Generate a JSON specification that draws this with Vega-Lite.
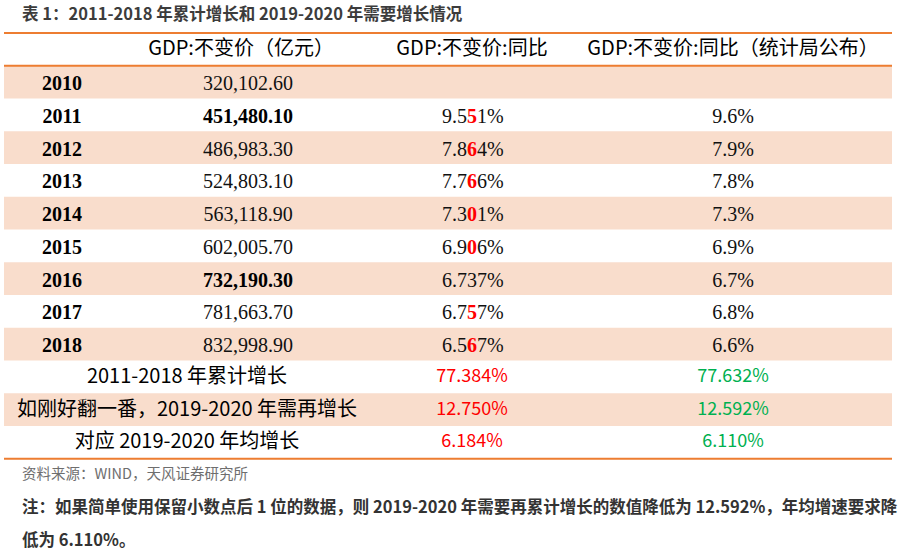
{
  "$schema": "https://vega.github.io/schema/vega-lite/v6.json",
  "width": 888,
  "height": 524,
  "autosize": {"type": "none"},
  "padding": {"left": 4, "top": 33, "right": 14, "bottom": 2},
  "background": "white",
  "config": {
    "view": {"stroke": null},
    "text": {"font": "Liberation Serif", "fontSize": 20, "color": "#111111", "baseline": "middle"}
  },
  "title": {
    "text": "表 1：2011-2018 年累计增长和 2019-2020 年需要增长情况",
    "anchor": "start",
    "frame": "group",
    "dx": 18,
    "offset": 9,
    "font": "Noto Sans CJK SC",
    "fontSize": 16.5,
    "fontWeight": "bold",
    "color": "#3c3c3c"
  },
  "datasets": {
    "table": [
      {"row": "2010", "label": "2010", "gdp": "320,102.60", "yoy": "", "stat": ""},
      {"row": "2011", "label": "2011", "gdp": "451,480.10", "yoy": "9.551%", "stat": "9.6%"},
      {"row": "2012", "label": "2012", "gdp": "486,983.30", "yoy": "7.864%", "stat": "7.9%"},
      {"row": "2013", "label": "2013", "gdp": "524,803.10", "yoy": "7.766%", "stat": "7.8%"},
      {"row": "2014", "label": "2014", "gdp": "563,118.90", "yoy": "7.301%", "stat": "7.3%"},
      {"row": "2015", "label": "2015", "gdp": "602,005.70", "yoy": "6.906%", "stat": "6.9%"},
      {"row": "2016", "label": "2016", "gdp": "732,190.30", "yoy": "6.737%", "stat": "6.7%"},
      {"row": "2017", "label": "2017", "gdp": "781,663.70", "yoy": "6.757%", "stat": "6.8%"},
      {"row": "2018", "label": "2018", "gdp": "832,998.90", "yoy": "6.567%", "stat": "6.6%"},
      {"row": "s1", "label": "2011-2018 年累计增长", "gdp": "", "yoy": "77.384%", "stat": "77.632%"},
      {"row": "s2", "label": "如刚好翻一番，2019-2020 年需再增长", "gdp": "", "yoy": "12.750%", "stat": "12.592%"},
      {"row": "s3", "label": "对应 2019-2020 年均增长", "gdp": "", "yoy": "6.184%", "stat": "6.110%"}
    ],
    "header": [
      {"row": "h", "col": 2, "text": "GDP:不变价（亿元）"},
      {"row": "h", "col": 3, "text": "GDP:不变价:同比"},
      {"row": "h", "col": 4, "text": "GDP:不变价:同比（统计局公布）"}
    ],
    "footer": [
      {"row": "src", "text": "资料来源：WIND，天风证券研究所"},
      {"row": "n1", "text": "注：如果简单使用保留小数点后 1 位的数据，则 2019-2020 年需要再累计增长的数值降低为 12.592%，年均增速要求降"},
      {"row": "n2", "text": "低为 6.110%。"}
    ]
  },
  "encoding": {
    "y": {
      "field": "row",
      "type": "ordinal",
      "scale": {
        "domain": ["h", "2010", "2011", "2012", "2013", "2014", "2015", "2016", "2017", "2018", "s1", "s2", "s3", "src", "n1", "n2"],
        "paddingInner": 0,
        "paddingOuter": 0
      },
      "axis": null
    }
  },
  "layer": [
    {
      "data": {"name": "table"},
      "transform": [{"filter": "indexof(['2010','2012','2014','2016','2018','s2'], datum.row) >= 0"}],
      "mark": {"type": "rect", "color": "#F9DDCC"},
      "encoding": {}
    },
    {
      "data": {"values": [{"row": "h"}, {"row": "2010"}]},
      "mark": {"type": "rule", "color": "#ED7D31", "strokeWidth": 2},
      "encoding": {"y": {"field": "row", "type": "ordinal", "bandPosition": 0}}
    },
    {
      "data": {"values": [{"row": "s3"}]},
      "mark": {"type": "rule", "color": "#ED7D31", "strokeWidth": 2},
      "encoding": {"y": {"field": "row", "type": "ordinal", "bandPosition": 1}}
    },
    {
      "data": {"name": "header"},
      "mark": {"type": "text", "font": "Noto Sans CJK SC", "fontSize": 20, "align": "center", "color": "#000000"},
      "encoding": {
        "x": {
          "field": "col",
          "type": "quantitative",
          "scale": {"type": "linear", "domain": [0, 1, 1.5, 2, 3, 4], "range": [18, 58, 183, 237, 468, 729], "zero": false, "nice": false},
          "axis": null
        },
        "text": {"field": "text"}
      }
    },
    {
      "data": {"name": "table"},
      "transform": [{"filter": "datum.gdp != ''"}],
      "mark": {"type": "text", "fontWeight": "bold", "align": "center", "color": "#000000", "dy": 2},
      "encoding": {"x": {"datum": 1, "type": "quantitative"}, "text": {"field": "label"}}
    },
    {
      "data": {"name": "table"},
      "transform": [{"filter": "datum.gdp != '' && datum.row != '2011' && datum.row != '2016'"}],
      "mark": {"type": "text", "align": "center", "dy": 2, "dx": 7},
      "encoding": {"x": {"datum": 2, "type": "quantitative"}, "text": {"field": "gdp"}}
    },
    {
      "data": {"name": "table"},
      "transform": [{"filter": "datum.row == '2011' || datum.row == '2016'"}],
      "mark": {"type": "text", "align": "center", "fontWeight": "bold", "color": "#000000", "dy": 2, "dx": 7},
      "encoding": {"x": {"datum": 2, "type": "quantitative"}, "text": {"field": "gdp"}}
    },
    {
      "data": {"name": "table"},
      "transform": [{"filter": "datum.gdp != '' && datum.yoy != ''"}, {"calculate": "substring(datum.yoy, 0, 3)", "as": "pre"}],
      "mark": {"type": "text", "align": "right", "dx": -5, "dy": 2},
      "encoding": {"x": {"datum": 3, "type": "quantitative"}, "text": {"field": "pre"}}
    },
    {
      "data": {"name": "table"},
      "transform": [{"filter": "datum.gdp != '' && datum.yoy != '' && datum.row != '2016'"}, {"calculate": "substring(datum.yoy, 3, 4)", "as": "mid"}],
      "mark": {"type": "text", "align": "center", "fontWeight": "bold", "color": "#FF0000", "dy": 2},
      "encoding": {"x": {"datum": 3, "type": "quantitative"}, "text": {"field": "mid"}}
    },
    {
      "data": {"name": "table"},
      "transform": [{"filter": "datum.row == '2016'"}, {"calculate": "substring(datum.yoy, 3, 4)", "as": "mid"}],
      "mark": {"type": "text", "align": "center", "dy": 2},
      "encoding": {"x": {"datum": 3, "type": "quantitative"}, "text": {"field": "mid"}}
    },
    {
      "data": {"name": "table"},
      "transform": [{"filter": "datum.gdp != '' && datum.yoy != ''"}, {"calculate": "substring(datum.yoy, 4)", "as": "post"}],
      "mark": {"type": "text", "align": "left", "dx": 5, "dy": 2},
      "encoding": {"x": {"datum": 3, "type": "quantitative"}, "text": {"field": "post"}}
    },
    {
      "data": {"name": "table"},
      "transform": [{"filter": "datum.gdp != '' && datum.stat != ''"}],
      "mark": {"type": "text", "align": "center", "dy": 2},
      "encoding": {"x": {"datum": 4, "type": "quantitative"}, "text": {"field": "stat"}}
    },
    {
      "data": {"name": "table"},
      "transform": [{"filter": "datum.gdp == ''"}],
      "mark": {"type": "text", "align": "center", "font": "Noto Sans CJK SC", "fontSize": 20, "color": "#000000"},
      "encoding": {"x": {"datum": 1.5, "type": "quantitative"}, "text": {"field": "label"}}
    },
    {
      "data": {"name": "table"},
      "transform": [{"filter": "datum.gdp == ''"}],
      "mark": {"type": "text", "align": "center", "font": "Noto Sans CJK SC", "fontSize": 18, "color": "#FF0000"},
      "encoding": {"x": {"datum": 3, "type": "quantitative"}, "text": {"field": "yoy"}}
    },
    {
      "data": {"name": "table"},
      "transform": [{"filter": "datum.gdp == ''"}],
      "mark": {"type": "text", "align": "center", "font": "Noto Sans CJK SC", "fontSize": 18, "color": "#00B050"},
      "encoding": {"x": {"datum": 4, "type": "quantitative"}, "text": {"field": "stat"}}
    },
    {
      "data": {"name": "footer"},
      "transform": [{"filter": "datum.row == 'src'"}],
      "mark": {"type": "text", "align": "left", "font": "Noto Sans CJK SC", "fontSize": 14.5, "color": "#6e6e6e"},
      "encoding": {"x": {"datum": 0, "type": "quantitative"}, "text": {"field": "text"}}
    },
    {
      "data": {"name": "footer"},
      "transform": [{"filter": "datum.row != 'src'"}],
      "mark": {"type": "text", "align": "left", "font": "Noto Sans CJK SC", "fontSize": 16.5, "fontWeight": "bold", "color": "#333333"},
      "encoding": {"x": {"datum": 0, "type": "quantitative"}, "text": {"field": "text"}}
    }
  ]
}
